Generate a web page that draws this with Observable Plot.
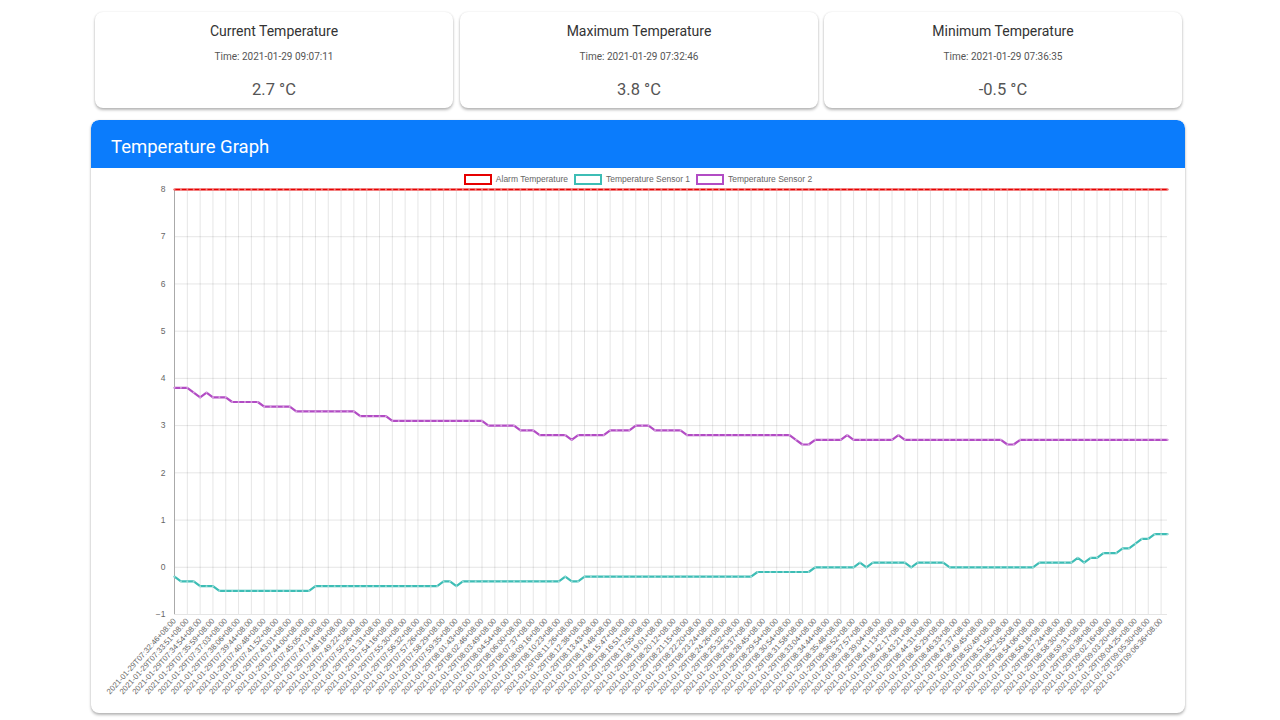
<!DOCTYPE html>
<html>
<head>
<meta charset="utf-8">
<script src="https://cdn.jsdelivr.net/npm/d3@7"></script>
<script src="https://cdn.jsdelivr.net/npm/@observablehq/plot@0.6"></script>
<style>
  html, body { margin: 0; padding: 0; background: #fff; width: 1280px; height: 720px; overflow: hidden; }
  body { position: relative; font-family: Roboto, "Liberation Sans", Arial, sans-serif; }
  .card { position: absolute; background: #fff; border-radius: 8px;
          box-shadow: 0 2px 3px rgba(0,0,0,0.28), 0 0 2px rgba(0,0,0,0.10); }
  .stat { top: 12px; height: 96px; width: 358px; text-align: center; }
  .stat .t { position: absolute; left: 0; right: 0; top: 9px; font-size: 14px; color: #333; line-height: 20px; }
  .stat .tm { position: absolute; left: 0; right: 0; top: 38px; font-size: 10px; color: #555; line-height: 14px; }
  .stat .v { position: absolute; left: 0; right: 0; top: 67px; font-size: 16.5px; color: #555; line-height: 22px; }
  #graph { left: 91px; top: 120px; width: 1094px; height: 593px; overflow: hidden; }
  #graph .hdr { height: 48px; background: #0b7cfc; color: #fff; font-size: 18.5px; line-height: 54px;
                padding-left: 20px; border-radius: 8px 8px 0 0; }
  #legend { height: 14px; margin-top: 4px; display: flex; justify-content: center; align-items: center;
            font-family: "Liberation Sans", Arial, sans-serif; font-size: 8.5px; color: #666; }
  #legend .it { display: flex; align-items: center; margin: 0 3px; }
  #legend .box { width: 24px; height: 7px; border: 2px solid; background: #fff; margin-right: 4px; }
  #chart svg { display: block; }
</style>
</head>
<body>
<div class="card stat" style="left:95px"><div class="t">Current Temperature</div><div class="tm">Time: 2021-01-29 09:07:11</div><div class="v">2.7 °C</div></div>
<div class="card stat" style="left:460px"><div class="t">Maximum Temperature</div><div class="tm">Time: 2021-01-29 07:32:46</div><div class="v">3.8 °C</div></div>
<div class="card stat" style="left:824px"><div class="t">Minimum Temperature</div><div class="tm">Time: 2021-01-29 07:36:35</div><div class="v">-0.5 °C</div></div>

<div class="card" id="graph">
  <div class="hdr">Temperature Graph</div>
  <div id="legend"></div>
  <div id="chart"></div>
</div>

<script>
// ---- data ----
const seriesNames = ["Alarm Temperature", "Temperature Sensor 1", "Temperature Sensor 2"];
const seriesColors = ["#e60000", "#3dbdb5", "#b24cc4"];

const alarmTemperature = 8;

// tick labels (shown on every other reading)
const tickLabels = [
  "2021-01-29T07:32:46+08:00","2021-01-29T07:33:51+08:00","2021-01-29T07:34:54+08:00","2021-01-29T07:35:59+08:00",
  "2021-01-29T07:37:03+08:00","2021-01-29T07:38:06+08:00","2021-01-29T07:39:44+08:00","2021-01-29T07:40:48+08:00",
  "2021-01-29T07:41:52+08:00","2021-01-29T07:43:01+08:00","2021-01-29T07:44:00+08:00","2021-01-29T07:45:05+08:00",
  "2021-01-29T07:47:14+08:00","2021-01-29T07:48:18+08:00","2021-01-29T07:49:22+08:00","2021-01-29T07:50:26+08:00",
  "2021-01-29T07:51:31+08:00","2021-01-29T07:54:16+08:00","2021-01-29T07:55:30+08:00","2021-01-29T07:56:32+08:00",
  "2021-01-29T07:57:26+08:00","2021-01-29T07:58:29+08:00","2021-01-29T07:59:35+08:00","2021-01-29T08:01:43+08:00",
  "2021-01-29T08:02:46+08:00","2021-01-29T08:03:49+08:00","2021-01-29T08:04:54+08:00","2021-01-29T08:06:00+08:00",
  "2021-01-29T08:07:37+08:00","2021-01-29T08:09:16+08:00","2021-01-29T08:10:23+08:00","2021-01-29T08:11:26+08:00",
  "2021-01-29T08:12:38+08:00","2021-01-29T08:13:43+08:00","2021-01-29T08:14:48+08:00","2021-01-29T08:15:47+08:00",
  "2021-01-29T08:16:51+08:00","2021-01-29T08:17:55+08:00","2021-01-29T08:19:01+08:00","2021-01-29T08:20:12+08:00",
  "2021-01-29T08:21:15+08:00","2021-01-29T08:22:20+08:00","2021-01-29T08:23:24+08:00","2021-01-29T08:24:26+08:00",
  "2021-01-29T08:25:32+08:00","2021-01-29T08:26:37+08:00","2021-01-29T08:28:45+08:00","2021-01-29T08:29:54+08:00",
  "2021-01-29T08:30:54+08:00","2021-01-29T08:31:58+08:00","2021-01-29T08:33:04+08:00","2021-01-29T08:34:44+08:00",
  "2021-01-29T08:35:48+08:00","2021-01-29T08:36:52+08:00","2021-01-29T08:37:57+08:00","2021-01-29T08:39:04+08:00",
  "2021-01-29T08:41:13+08:00","2021-01-29T08:42:17+08:00","2021-01-29T08:43:21+08:00","2021-01-29T08:44:31+08:00",
  "2021-01-29T08:45:29+08:00","2021-01-29T08:46:33+08:00","2021-01-29T08:47:37+08:00","2021-01-29T08:49:45+08:00",
  "2021-01-29T08:50:49+08:00","2021-01-29T08:51:50+08:00","2021-01-29T08:52:55+08:00","2021-01-29T08:54:06+08:00",
  "2021-01-29T08:56:18+08:00","2021-01-29T08:57:24+08:00","2021-01-29T08:58:30+08:00","2021-01-29T08:59:31+08:00",
  "2021-01-29T09:00:38+08:00","2021-01-29T09:02:16+08:00","2021-01-29T09:03:20+08:00","2021-01-29T09:04:25+08:00",
  "2021-01-29T09:05:30+08:00","2021-01-29T09:06:36+08:00"
];

const sensor1 = [
  -0.2,-0.3,-0.3,-0.3,-0.4,-0.4,-0.4,-0.5,-0.5,-0.5,
  -0.5,-0.5,-0.5,-0.5,-0.5,-0.5,-0.5,-0.5,-0.5,-0.5,
  -0.5,-0.5,-0.4,-0.4,-0.4,-0.4,-0.4,-0.4,-0.4,-0.4,
  -0.4,-0.4,-0.4,-0.4,-0.4,-0.4,-0.4,-0.4,-0.4,-0.4,
  -0.4,-0.4,-0.3,-0.3,-0.4,-0.3,-0.3,-0.3,-0.3,-0.3,
  -0.3,-0.3,-0.3,-0.3,-0.3,-0.3,-0.3,-0.3,-0.3,-0.3,
  -0.3,-0.2,-0.3,-0.3,-0.2,-0.2,-0.2,-0.2,-0.2,-0.2,
  -0.2,-0.2,-0.2,-0.2,-0.2,-0.2,-0.2,-0.2,-0.2,-0.2,
  -0.2,-0.2,-0.2,-0.2,-0.2,-0.2,-0.2,-0.2,-0.2,-0.2,
  -0.2,-0.1,-0.1,-0.1,-0.1,-0.1,-0.1,-0.1,-0.1,-0.1,
  0.0,0.0,0.0,0.0,0.0,0.0,0.0,0.1,0.0,0.1,
  0.1,0.1,0.1,0.1,0.1,0.0,0.1,0.1,0.1,0.1,
  0.1,0.0,0.0,0.0,0.0,0.0,0.0,0.0,0.0,0.0,
  0.0,0.0,0.0,0.0,0.0,0.1,0.1,0.1,0.1,0.1,
  0.1,0.2,0.1,0.2,0.2,0.3,0.3,0.3,0.4,0.4,
  0.5,0.6,0.6,0.7,0.7,0.7
];

const sensor2 = [
  3.8,3.8,3.8,3.7,3.6,3.7,3.6,3.6,3.6,3.5,
  3.5,3.5,3.5,3.5,3.4,3.4,3.4,3.4,3.4,3.3,
  3.3,3.3,3.3,3.3,3.3,3.3,3.3,3.3,3.3,3.2,
  3.2,3.2,3.2,3.2,3.1,3.1,3.1,3.1,3.1,3.1,
  3.1,3.1,3.1,3.1,3.1,3.1,3.1,3.1,3.1,3.0,
  3.0,3.0,3.0,3.0,2.9,2.9,2.9,2.8,2.8,2.8,
  2.8,2.8,2.7,2.8,2.8,2.8,2.8,2.8,2.9,2.9,
  2.9,2.9,3.0,3.0,3.0,2.9,2.9,2.9,2.9,2.9,
  2.8,2.8,2.8,2.8,2.8,2.8,2.8,2.8,2.8,2.8,
  2.8,2.8,2.8,2.8,2.8,2.8,2.8,2.7,2.6,2.6,
  2.7,2.7,2.7,2.7,2.7,2.8,2.7,2.7,2.7,2.7,
  2.7,2.7,2.7,2.8,2.7,2.7,2.7,2.7,2.7,2.7,
  2.7,2.7,2.7,2.7,2.7,2.7,2.7,2.7,2.7,2.7,
  2.6,2.6,2.7,2.7,2.7,2.7,2.7,2.7,2.7,2.7,
  2.7,2.7,2.7,2.7,2.7,2.7,2.7,2.7,2.7,2.7,
  2.7,2.7,2.7,2.7,2.7,2.7
];

const yTicks = [-1, 0, 1, 2, 3, 4, 5, 6, 7, 8];

// ---- build ----
const n = sensor1.length;
const alarmRows = sensor1.map((_, i) => ({i, v: alarmTemperature}));
const s1Rows = sensor1.map((v, i) => ({i, v}));
const s2Rows = sensor2.map((v, i) => ({i, v}));
const tickIdx = tickLabels.map((_, k) => k * 2);

// legend
const leg = document.getElementById("legend");
seriesNames.forEach((name, k) => {
  const it = document.createElement("div");
  it.className = "it";
  it.innerHTML = `<span class="box" style="border-color:${seriesColors[k]}"></span><span>${name}</span>`;
  leg.appendChild(it);
});

function seriesMarks(rows, color) {
  return [
    Plot.line(rows, {x: "i", y: "v", stroke: color, strokeWidth: 2.2}),
    Plot.dot(rows, {x: "i", y: "v", r: 1, fill: "#fff", fillOpacity: 0.45, stroke: "none"})
  ];
}

const chart = Plot.plot({
  width: 1094,
  height: 525,
  marginLeft: 83,
  marginRight: 18,
  marginTop: 3,
  marginBottom: 97,
  style: {fontFamily: "'Liberation Sans', Arial, sans-serif", fontSize: "8px", color: "#666", background: "transparent", overflow: "visible"},
  x: {domain: [0, n - 1]},
  y: {domain: [-1, 8]},
  marks: [
    Plot.gridY(yTicks, {stroke: "#000", strokeOpacity: 0.1}),
    Plot.gridX(tickIdx, {stroke: "#000", strokeOpacity: 0.1}),
    Plot.ruleX([0], {stroke: "#aaa", strokeWidth: 1}),
    Plot.axisY(yTicks, {tickSize: 0, tickPadding: 9, fontSize: 8.5, fill: "#666", label: null}),
    Plot.axisX(tickIdx, {tickFormat: (i) => tickLabels[i / 2], tickRotate: -48, tickSize: 0, tickPadding: 5, fontSize: 7.8, fill: "#666", label: null}),
    ...seriesMarks(alarmRows, seriesColors[0]),
    ...seriesMarks(s1Rows, seriesColors[1]),
    ...seriesMarks(s2Rows, seriesColors[2])
  ]
});
document.getElementById("chart").appendChild(chart);
</script>
</body>
</html>
